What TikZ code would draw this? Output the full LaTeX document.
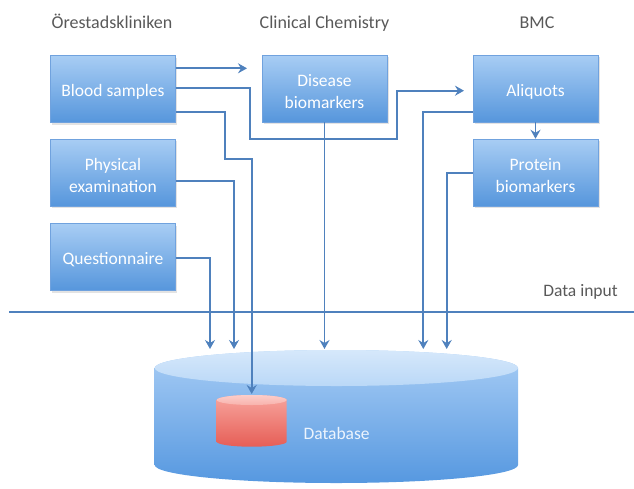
\documentclass[tikz,border=0pt]{standalone}
\usepackage{fontspec}
\setmainfont{Carlito}
\usetikzlibrary{arrows.meta,shadows}
\definecolor{conn}{RGB}{79,129,189}
\definecolor{boxtop}{RGB}{168,205,244}
\definecolor{boxbot}{RGB}{86,150,220}
\definecolor{boxedge}{RGB}{112,162,222}
\definecolor{titlegray}{RGB}{89,89,89}
\definecolor{cyltopA}{RGB}{214,232,251}
\definecolor{cyltopB}{RGB}{186,216,247}
\definecolor{cylbodytop}{RGB}{168,205,245}
\definecolor{cylbodybot}{RGB}{86,152,224}
\definecolor{redtopA}{RGB}{252,206,202}
\definecolor{redtopB}{RGB}{248,178,172}
\definecolor{redbodytop}{RGB}{248,165,158}
\definecolor{redbodybot}{RGB}{230,94,86}
\newcommand\lowtext[1]{\raisebox{-3pt}[\height][\depth]{#1}}
\begin{document}
\begin{tikzpicture}[x=1pt,y=-1pt,
  box/.style={draw=boxedge, line width=0.5pt, top color=boxtop, bottom color=boxbot,
    minimum width=125pt, minimum height=67pt, inner sep=2pt, text=white, align=center,
    font=\fontsize{17.5}{21.5}\selectfont,
    drop shadow={opacity=0.22, shadow xshift=1.5pt, shadow yshift=-2pt}},
  title/.style={text=titlegray, font=\fontsize{18}{21}\selectfont, anchor=base},
  conn/.style={draw=conn, line width=1.9pt},
  arr/.style={conn, -{Stealth[length=9pt,width=10pt,inset=3pt]}},
]
\useasboundingbox (0,0) rectangle (634,488);

% big database cylinder
\path[top color=cylbodytop, bottom color=cylbodybot]
  (154.7,368) -- (154.7,465) arc[start angle=180,end angle=0,x radius=181.65,y radius=18]
  -- (518,368) arc[start angle=0,end angle=-180,x radius=181.65,y radius=18] -- cycle;
\path[top color=cyltopA, bottom color=cyltopB] (336.35,368) ellipse[x radius=181.65,y radius=18];

% small red cylinder
\path[top color=redbodytop, bottom color=redbodybot]
  (216.7,400) -- (216.7,441.7) arc[start angle=180,end angle=0,x radius=35,y radius=5]
  -- (286.7,400) arc[start angle=0,end angle=-180,x radius=35,y radius=5] -- cycle;
\path[top color=redtopA, bottom color=redtopB] (251.7,400) ellipse[x radius=35,y radius=5];
\coordinate (smalltop) at (251.7,394);
\node[anchor=west, text={rgb,255:red,236;green,244;blue,253}, font=\fontsize{17.5}{21}\selectfont] (dbl) at (300,433) {Database};

% titles
\node[title] (t1) at (112,28.3) {Örestadskliniken};
\node[title] (t2) at (324.5,28.3) {Clinical Chemistry};
\node[title] (t3) at (537,28.3) {BMC};

% boxes
\node[box] (blood) at (113,89) {\lowtext{Blood samples}};
\node[box] (phys) at (113,172.5) {\lowtext{Physical}\\\lowtext{examination}};
\node[box] (quest) at (113,257) {\lowtext{Questionnaire}};
\node[box] (dis) at (324.5,88.5) {\lowtext{Disease}\\\lowtext{biomarkers}};
\node[box] (aliq) at (535.5,88.5) {\lowtext{Aliquots}};
\node[box] (prot) at (535.5,172.5) {\lowtext{Protein}\\\lowtext{biomarkers}};

% data input line
\coordinate (dl1) at (9,312.3);
\coordinate (dl2) at (634,312.3);
\draw[conn] (dl1) -- (dl2);
\node[anchor=base, text=titlegray, font=\fontsize{17.5}{21}\selectfont] (din) at (580.5,296) {Data input};

% arrow targets
\coordinate (bd) at (247,68.3);
\coordinate (ba) at (464,90.7);
\coordinate (inq) at (210,349);
\coordinate (inp) at (234,349);
\coordinate (ind) at (324.5,349);
\coordinate (ina) at (423.3,349);
\coordinate (inpr) at (446.7,349);

% connectors
\draw[arr] ([yshift=20.7pt]blood.east) -- (bd);
\draw[arr] ([yshift=0.7pt]blood.east) -| (250,139.3) -| (397,90.7) -- (ba);
\draw[arr] ([yshift=-22.7pt]blood.east) -| (225,159.3) -| (smalltop);
\draw[arr] ([yshift=-8.2pt]phys.east) -| (inp);
\draw[arr] ([yshift=-1.3pt]quest.east) -| (inq);
\draw[arr] (dis.south) -- (ind);
\draw[arr] ([yshift=-23.2pt]aliq.west) -| (ina);
\draw[arr] ([yshift=-0.8pt]prot.west) -| (inpr);
\draw[arr] (aliq.south) -- (prot.north);
\end{tikzpicture}
\end{document}
